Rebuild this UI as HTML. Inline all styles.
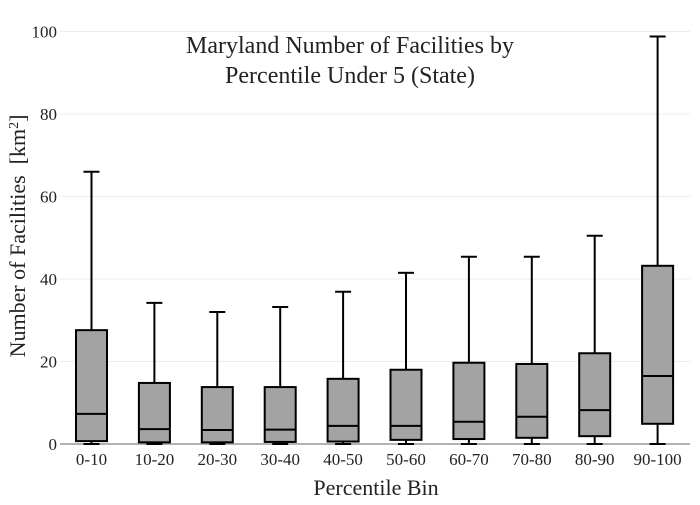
<!DOCTYPE html>
<html><head><meta charset="utf-8"><style>
body{margin:0;background:#fff}
svg text{font-family:"Liberation Serif",serif;fill:#222}
</style></head><body>
<svg id="chart" width="700" height="500">
<g id="grid"></g>
<g id="yticks"></g>
<line x1="60" x2="690" y1="444" y2="444" stroke="#999" stroke-width="1.5"/>
<g id="boxes"></g>
<g id="xticks"></g>
<text x="350" y="53" text-anchor="middle" font-size="24">Maryland Number of Facilities by</text>
<text x="350" y="83" text-anchor="middle" font-size="24">Percentile Under 5 (State)</text>
<text transform="translate(25,236) rotate(-90)" text-anchor="middle" font-size="22" style="white-space:pre">Number of Facilities  [km<tspan baseline-shift="super" font-size="14">2</tspan>]</text>
<text x="376" y="495" text-anchor="middle" font-size="22">Percentile Bin</text>
</svg>
<script>
const categories=["0-10","10-20","20-30","30-40","40-50","50-60","60-70","70-80","80-90","90-100"];
const mins=[0,0,0,0,0,0,0,0,0,0];
const q1s=[0.7,0.4,0.4,0.5,0.6,1.0,1.2,1.5,1.9,4.9];
const medians=[7.3,3.6,3.4,3.5,4.4,4.4,5.4,6.6,8.2,16.5];
const q3s=[27.6,14.8,13.8,13.8,15.8,18.0,19.7,19.4,22.0,43.2];
const maxs=[66,34.2,32,33.2,36.9,41.5,45.4,45.4,50.5,98.8];
const yTicks=[0,20,40,60,80,100];
const NS="http://www.w3.org/2000/svg";
const y=v=>444-v*4.125;
const x=i=>91.5+i*62.9;
function mk(tag,attrs,parent){const e=document.createElementNS(NS,tag);for(const k in attrs)e.setAttribute(k,attrs[k]);parent.appendChild(e);return e;}
const grid=document.getElementById('grid'),yt=document.getElementById('yticks'),bx=document.getElementById('boxes'),xt=document.getElementById('xticks');
yTicks.forEach(t=>{
 if(t>0){const l=mk('line',{x1:60,x2:690,y1:y(t),y2:y(t),stroke:'#ececec'},grid);
 
 }
 const tx=mk('text',{x:57,y:y(t)+6,'text-anchor':'end','font-size':17},yt);tx.textContent=t;
 
 
});
categories.forEach((c,i)=>{
 const cx=x(i),w=31,g=mk('g',{},bx);
 
 
 const s={stroke:'#000','stroke-width':2};
 mk('line',Object.assign({x1:cx,x2:cx,y1:y(q3s[i]),y2:y(maxs[i])},s),g);
 mk('line',Object.assign({x1:cx,x2:cx,y1:y(q1s[i]),y2:y(mins[i])},s),g);
 mk('line',Object.assign({x1:cx-8,x2:cx+8,y1:y(maxs[i]),y2:y(maxs[i])},s),g);
 mk('line',Object.assign({x1:cx-8,x2:cx+8,y1:y(mins[i]),y2:y(mins[i])},s),g);
 mk('rect',Object.assign({x:cx-w/2,y:y(q3s[i]),width:w,height:y(q1s[i])-y(q3s[i]),fill:'#a3a3a3'},s),g);
 mk('line',Object.assign({x1:cx-w/2,x2:cx+w/2,y1:y(medians[i]),y2:y(medians[i])},s),g);
 const tx=mk('text',{x:cx,y:465,'text-anchor':'middle','font-size':17},xt);tx.textContent=c;
 
 
});
</script>
</body></html>
